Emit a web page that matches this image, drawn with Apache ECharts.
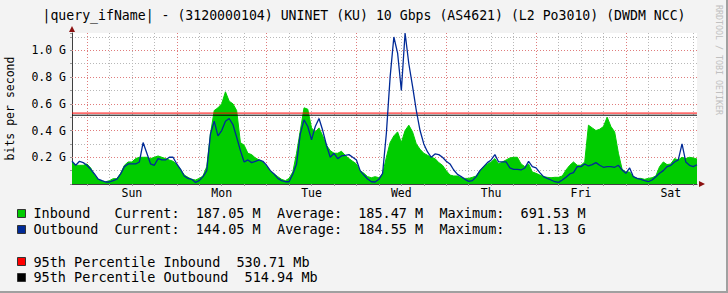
<!DOCTYPE html>
<html><head><meta charset="utf-8">
<script src="https://cdn.jsdelivr.net/npm/echarts@6/dist/echarts.min.js"></script>
<style>html,body{margin:0;padding:0;background:#F3F3F3;}#c{width:728px;height:293px;}</style>
</head><body><div id="c"></div>
<script>
const titleText = '|query_ifName| - (3120000104) UNINET (KU) 10 Gbps (AS4621) (L2 Po3010) (DWDM NCC)';
const yAxisTitle = 'bits per second';
const watermark = 'RRDTOOL / TOBI OETIKER';
const startHour = -4; // first sample: Sat 20:00 (hours relative to Sun 00:00)
const dayNames = ['Sun', 'Mon', 'Tue', 'Wed', 'Thu', 'Fri', 'Sat'];
// hourly samples, in G bits per second
const inbound = [
  0.165, 0.14, 0.14, 0.14, 0.15, 0.12, 0.07, 0.035, 0.022, 0.017, 0.025, 0.04,
  0.04, 0.08, 0.14, 0.165, 0.165, 0.19, 0.2, 0.2, 0.2, 0.19, 0.2, 0.21,
  0.2, 0.19, 0.18, 0.17, 0.145, 0.11, 0.067, 0.05, 0.035, 0.03, 0.042, 0.06,
  0.13, 0.375, 0.55, 0.57, 0.6, 0.69, 0.62, 0.6, 0.55, 0.31, 0.29, 0.23,
  0.22, 0.195, 0.18, 0.165, 0.13, 0.1, 0.075, 0.055, 0.035, 0.025, 0.042, 0.09,
  0.23, 0.4, 0.57, 0.56, 0.42, 0.39, 0.42, 0.36, 0.29, 0.25, 0.23, 0.23,
  0.245, 0.215, 0.19, 0.17, 0.15, 0.1, 0.08, 0.055, 0.047, 0.055, 0.047, 0.075,
  0.2, 0.31, 0.36, 0.39, 0.31, 0.4, 0.44, 0.39, 0.3, 0.26, 0.23, 0.215,
  0.2, 0.19, 0.16, 0.14, 0.1, 0.067, 0.06, 0.06, 0.047, 0.042, 0.042, 0.05,
  0.06, 0.1, 0.13, 0.15, 0.165, 0.19, 0.15, 0.165, 0.18, 0.195, 0.2, 0.2,
  0.15, 0.13, 0.15, 0.09, 0.08, 0.067, 0.055, 0.05, 0.047, 0.05, 0.05, 0.06,
  0.105, 0.14, 0.165, 0.14, 0.14, 0.165, 0.44, 0.42, 0.4, 0.41, 0.43, 0.5,
  0.43, 0.39, 0.23, 0.11, 0.09, 0.09, 0.055, 0.042, 0.042, 0.035, 0.042, 0.047,
  0.06, 0.13, 0.165, 0.145, 0.15, 0.19, 0.18, 0.2, 0.19, 0.2, 0.195, 0.187
];
const outbound = [
  0.17, 0.14, 0.17, 0.16, 0.14, 0.11, 0.075, 0.037, 0.025, 0.015, 0.015, 0.025,
  0.037, 0.075, 0.13, 0.15, 0.15, 0.15, 0.165, 0.31, 0.23, 0.15, 0.14, 0.19,
  0.18, 0.18, 0.2, 0.2, 0.15, 0.11, 0.06, 0.042, 0.035, 0.012, 0.025, 0.055,
  0.1, 0.375, 0.47, 0.36, 0.4, 0.47, 0.49, 0.445, 0.35, 0.25, 0.165, 0.18,
  0.16, 0.17, 0.18, 0.17, 0.14, 0.1, 0.075, 0.042, 0.025, 0.017, 0.017, 0.075,
  0.15, 0.375, 0.48, 0.43, 0.33, 0.43, 0.49, 0.4, 0.29, 0.2, 0.23, 0.19,
  0.21, 0.215, 0.22, 0.2, 0.18, 0.1, 0.067, 0.037, 0.017, 0.015, 0.035, 0.08,
  0.38, 0.8, 1.1, 0.98, 0.7, 1.13, 0.9, 0.73, 0.55, 0.4, 0.3, 0.24,
  0.2, 0.225, 0.22, 0.2, 0.17, 0.15, 0.105, 0.072, 0.055, 0.035, 0.02, 0.025,
  0.055, 0.1, 0.13, 0.16, 0.18, 0.22, 0.165, 0.165, 0.165, 0.12, 0.11, 0.11,
  0.105, 0.12, 0.17, 0.13, 0.12, 0.085, 0.055, 0.042, 0.03, 0.017, 0.012, 0.03,
  0.05, 0.075, 0.085, 0.13, 0.13, 0.15, 0.135, 0.145, 0.16, 0.14, 0.125, 0.13,
  0.13, 0.125, 0.14, 0.105, 0.08, 0.12, 0.055, 0.042, 0.035, 0.025, 0.017, 0.03,
  0.055, 0.08, 0.1, 0.13, 0.14, 0.165, 0.18, 0.3, 0.165, 0.14, 0.13, 0.144
];
const yMax = 1.13;
const yMinorStep = 0.1;
const yMajorStep = 0.2;
const p95In = 0.53071;
const p95Out = 0.51494;
const seriesNames = ['Inbound', 'Outbound'];
const currentVals = ['187.05 M', '144.05 M'];
const averageVals = ['185.47 M', '184.55 M'];
const maximumVals = ['691.53 M', '1.13 G'];
const percentileNames = ['95th Percentile Inbound', '95th Percentile Outbound'];
const percentileVals = ['530.71 Mb', '514.94 Mb'];
const spanEnds = ['start', 'end'];

const categories = inbound.map((_, i) => String(startHour + i));
const mono = '"DejaVu Sans Mono", monospace';
const hourOf = (i) => startHour + i;
const mod = (a, n) => ((a % n) + n) % n;

const chart = echarts.init(document.getElementById('c'), null, { renderer: 'svg' });

const legendX = 33.4, colW = 8.12;
const rowY = [213.3, 229.3, 261.7, 277];
const swatches = ['#00CC00', '#002A97', '#FF0000', '#000000'];
const legFont = '13.5px ' + mono;
function txt(text, col, y, align) {
  return { type: 'text', silent: true, x: legendX + col * colW, y: y,
    style: { text: text, font: legFont, fill: '#000', align: align || 'left', verticalAlign: 'middle' } };
}
const graphics = [];
graphics.push({ type: 'text', silent: true, x: 364, y: 15,
  style: { text: titleText, font: '13.2px ' + mono, fill: '#000', align: 'center', verticalAlign: 'middle' } });
graphics.push({ type: 'text', silent: true, x: 719, y: 60, rotation: -Math.PI / 2,
  style: { text: watermark, font: '8.3px ' + mono, fill: '#c0c0c0', align: 'center', verticalAlign: 'middle' } });
graphics.push({ type: 'text', silent: true, x: 10, y: 108.5, rotation: Math.PI / 2,
  style: { text: yAxisTitle, font: '11.5px ' + mono, fill: '#000', align: 'center', verticalAlign: 'middle' } });
for (let i = 0; i < 2; i++) {
  graphics.push(txt(seriesNames[i], 0, rowY[i]));
  graphics.push(txt('Current:', 10, rowY[i]));
  graphics.push(txt(currentVals[i], 28, rowY[i], 'right'));
  graphics.push(txt('Average:', 30, rowY[i]));
  graphics.push(txt(averageVals[i], 48, rowY[i], 'right'));
  graphics.push(txt('Maximum:', 50, rowY[i]));
  graphics.push(txt(maximumVals[i], 68, rowY[i], 'right'));
}
for (let j = 0; j < 2; j++) {
  graphics.push(txt(percentileNames[j], 0, rowY[j + 2]));
  graphics.push(txt(percentileVals[j], percentileNames[j].length + 2, rowY[j + 2]));
}
for (let k = 0; k < 4; k++) {
  graphics.push({ type: 'rect', silent: true,
    shape: { x: 17.5, y: Math.round(rowY[k] - 4.5) + 0.5, width: 8, height: 8 },
    style: { fill: swatches[k], stroke: '#333', lineWidth: 1 } });
}
graphics.push({ type: 'polygon', silent: true, z: 100,
  shape: { points: [[69, 32], [75, 32], [72, 26]] }, style: { fill: '#8B1010' } });
graphics.push({ type: 'polygon', silent: true, z: 100,
  shape: { points: [[699, 181], [699, 187], [705, 184]] }, style: { fill: '#8B1010' } });
graphics.push({ type: 'line', silent: true, shape: { x1: 0, y1: 292, x2: 728, y2: 292 }, style: { stroke: '#a0a0a0', lineWidth: 2 } });
graphics.push({ type: 'line', silent: true, shape: { x1: 727, y1: 0, x2: 727, y2: 293 }, style: { stroke: '#a0a0a0', lineWidth: 2 } });

const gridGray = '#b8b8b8', gridRed = '#e07c7c';
const dots = [1, 2];
const option = {
  animation: false,
  backgroundColor: '#F3F3F3',
  grid: { left: 72, top: 33, width: 625, height: 151, show: true, backgroundColor: '#ffffff', borderWidth: 0, containLabel: false, outerBoundsMode: 'none' },
  xAxis: [
    { type: 'category', data: categories, boundaryGap: false,
      axisLine: { show: true, onZero: false, lineStyle: { color: '#404040', width: 1 } },
      axisTick: { show: true, length: 2, interval: (i) => mod(hourOf(i), 6) === 0, lineStyle: { color: '#999' } },
      axisLabel: { show: true, interval: (i) => mod(hourOf(i), 24) === 12, margin: 3,
        formatter: (v) => dayNames[Math.floor(Number(v) / 24)] || '',
        fontFamily: mono, fontSize: 11.5, color: '#000' },
      splitLine: { show: true, interval: (i) => mod(hourOf(i), 6) === 0 && mod(hourOf(i), 24) !== 0,
        lineStyle: { color: gridGray, type: dots, width: 1 } } },
    { type: 'category', data: categories, boundaryGap: false, position: 'bottom',
      axisLine: { show: false }, axisTick: { show: false }, axisLabel: { show: false },
      splitLine: { show: true, interval: (i) => mod(hourOf(i), 24) === 0,
        lineStyle: { color: gridRed, type: dots, width: 1 } } },
    { type: 'category', data: spanEnds, boundaryGap: false, show: false }
  ],
  yAxis: [
    { type: 'value', min: 0, max: yMax, interval: yMinorStep,
      axisLine: { show: true, lineStyle: { color: '#404040', width: 1 } },
      axisTick: { show: true, length: 2, lineStyle: { color: '#999' } },
      axisLabel: { show: false },
      splitLine: { show: true, showMaxLine: false, lineStyle: { color: gridGray, type: dots, width: 1 } } },
    { type: 'value', min: 0, max: yMax, interval: yMajorStep, position: 'left', z: 1,
      axisLine: { show: false }, axisTick: { show: false },
      axisLabel: { show: true, margin: 6, fontFamily: mono, fontSize: 11.5, color: '#000',
        formatter: (v) => {
          const r = v / yMajorStep;
          if (v <= 0 || Math.abs(r - Math.round(r)) > 1e-6) return '';
          return v.toFixed(1) + ' G';
        } },
      splitLine: { show: true, showMinLine: false, showMaxLine: false, lineStyle: { color: gridRed, type: dots, width: 1 } } }
  ],
  series: [
    { name: seriesNames[0], type: 'line', xAxisIndex: 0, yAxisIndex: 0, data: inbound,
      symbol: 'none', showSymbol: false, z: 2,
      lineStyle: { width: 1, color: '#00CC00' }, itemStyle: { color: '#00CC00' },
      areaStyle: { color: '#00CC00', opacity: 1 } },
    { name: percentileNames[0], type: 'line', xAxisIndex: 2, yAxisIndex: 0, data: [p95In, p95In],
      symbol: 'none', showSymbol: false, z: 3, silent: true,
      lineStyle: { width: 1, color: '#FF0000', opacity: 1 }, itemStyle: { color: '#FF0000' } },
    { name: percentileNames[1], type: 'line', xAxisIndex: 2, yAxisIndex: 0, data: [p95Out, p95Out],
      symbol: 'none', showSymbol: false, z: 3, silent: true,
      lineStyle: { width: 1, color: '#000000', opacity: 1 }, itemStyle: { color: '#000000' } },
    { name: seriesNames[1], type: 'line', xAxisIndex: 0, yAxisIndex: 0, data: outbound,
      symbol: 'none', showSymbol: false, z: 4,
      lineStyle: { width: 1.3, color: '#002A97' }, itemStyle: { color: '#002A97' } }
  ],
  graphic: graphics
};
chart.setOption(option);
</script></body></html>
